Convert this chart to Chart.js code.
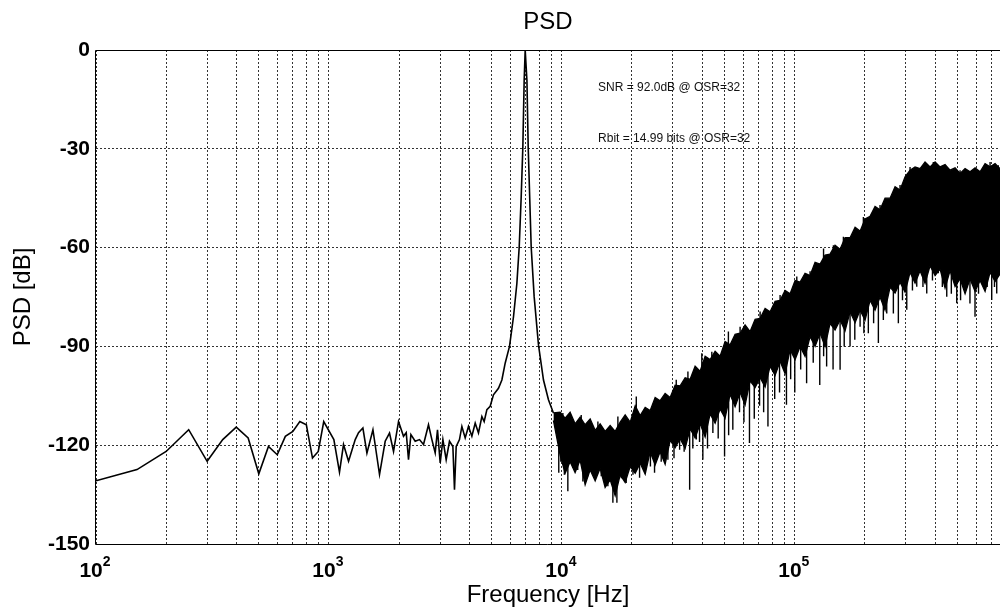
<!DOCTYPE html>
<html>
<head>
<meta charset="utf-8">
<script src="https://cdn.jsdelivr.net/npm/chart.js@4.4.1/dist/chart.umd.min.js"></script>
<style>
  html, body { margin: 0; padding: 0; background: #fff; overflow: hidden; }
</style>
</head>
<body>
<canvas id="psdChart" width="1000" height="610"></canvas>
<script>
  // low band + signal tone (Hz, dB)
  const lowFreq = [100, 150, 200, 250, 300, 350, 400, 450, 500, 550, 600, 650, 700, 750, 800, 850, 900, 950,
    1050, 1110, 1155, 1214, 1297, 1340, 1399, 1456, 1545, 1649, 1744, 1820, 1894, 1990,
    2090, 2147, 2196, 2249, 2346, 2448, 2547, 2676, 2767, 2859, 2925, 3004, 3085, 3187, 3293, 3405, 3460, 3519,
    3635, 3722, 3846, 3973, 4109, 4246, 4386, 4536, 4640, 4766, 4923, 5086, 5344, 5527, 5710, 5960,
    6200, 6410, 6560, 6690, 6800, 6890, 6960, 7080, 7170, 7385, 7605, 7935, 8340, 8760, 9200];
  const lowPsd = [-130.8, -127.4, -121.9, -115.3, -124.9, -118.3, -114.5, -117.8, -128.7, -120.4, -122.9, -117.3, -115.8, -112.8, -113.8, -123.9, -121.9, -112.8,
    -118.3, -128.2, -119.8, -124.9, -118.3, -116.2, -114.8, -122.4, -115.3, -128.9, -118.8, -116.3, -121.9, -112.8,
    -117.3, -116.2, -124.4, -116.8, -118.8, -118.3, -119.8, -113.8, -118.3, -122.3, -115.3, -125.4, -118.3, -124.4, -118.8, -120.4, -133.5, -120.4,
    -118.3, -114.3, -117.8, -114.3, -117.3, -113.3, -116.3, -111.3, -112.8, -109.2, -108.2, -104.7, -102.7, -100.2, -95.1, -90.0,
    -81.0, -70.9, -59.8, -44.6, -29.5, -9.2, 0, -9.2, -29.5, -59.8, -74.9, -89.5, -100.2, -106.2, -110.2];

  // shaped noise: upper edge and lower edge of the dense trace
  const noiseFreq = [9200, 9830, 10330, 10850, 11400, 11980, 12590, 13230, 13900, 14600, 15340, 16120, 16940, 17800, 18700,
    19650, 20650, 21690, 22790, 23930, 25150, 26420, 27760, 29160, 30640, 32190, 33830, 35540, 37340, 39230,
    41220, 43300, 45500, 47790, 50210, 52760, 55430, 58240, 61190, 64300, 67560, 70980, 74580, 78340, 82320,
    86480, 90870, 95480, 100300, 105400, 110700, 116300, 122200, 128400, 134900, 141700, 148900, 156500, 164400,
    172700, 181500, 190700, 200300, 210500, 221100, 232300, 244100, 256500, 269500, 283100, 297500, 312500,
    328400, 345000, 362500, 380900, 400200, 420500, 441800, 464200, 487700, 512400, 538400, 565700, 594300,
    624400, 656100, 689300, 724300, 760400];
  const noiseTop = [-110.2, -110.0, -111.8, -110.0, -113.5, -111.5, -113.8, -112.0, -115.5, -113.5, -115.8, -114.0, -115.8, -113.0, -110.8,
    -113.0, -108.0, -111.0, -108.5, -109.5, -105.5, -106.5, -104.3, -105.5, -101.8, -102.0, -99.5, -100.0, -96.0, -97.5,
    -93.0, -94.0, -91.5, -93.0, -88.5, -89.5, -86.3, -86.0, -83.5, -85.5, -81.8, -81.5, -78.5, -79.5, -76.3,
    -76.0, -73.0, -74.0, -70.0, -70.5, -67.8, -68.5, -64.5, -65.0, -62.3, -62.0, -59.3, -60.5, -57.0,
    -57.0, -53.8, -55.0, -51.3, -50.5, -47.5, -48.5, -45.0, -45.0, -41.5, -42.5, -38.5, -36.5,
    -35.5, -36.0, -34.0, -35.5, -34.0, -35.5, -34.8, -36.5, -35.8, -37.5, -36.0, -37.0, -35.8,
    -37.0, -34.5, -35.5, -34.5, -36.0];
  const noiseBottom = [-112.5, -123.0, -128.5, -125.0, -128.3, -124.5, -132.0, -127.5, -130.8, -127.0, -132.8, -130.5, -135.3, -129.0, -131.3,
    -126.5, -128.5, -125.5, -128.8, -122.0, -126.0, -122.0, -125.8, -118.5, -120.8, -118.0, -121.0, -115.0, -117.8, -113.5,
    -117.5, -110.5, -113.3, -109.0, -111.8, -104.5, -108.3, -104.0, -107.8, -100.5, -102.5, -99.5, -102.3, -96.0, -98.8,
    -94.5, -98.3, -91.0, -94.0, -90.0, -93.0, -87.0, -90.0, -86.0, -90.0, -83.0, -85.0, -82.0, -85.3,
    -79.5, -82.8, -79.0, -82.0, -76.0, -79.0, -75.0, -79.0, -72.0, -73.8, -70.5, -73.5, -67.5,
    -70.8, -67.0, -70.8, -65.5, -68.5, -66.5, -72.3, -67.0, -71.8, -69.5, -74.0, -69.5, -73.3,
    -70.0, -73.3, -67.5, -70.3, -68.0];

  // single-bin excursions beyond the band (dips below and teeth above)
  const spikeFreq = [9700, 9900, 10100, 10250, 10610, 11150, 11700, 12110, 12310, 12900, 13590, 14100, 14280, 14760, 15300,
    15760, 16000, 16560, 17230, 17400, 18000, 18890, 20200, 20870, 21560, 22800, 24000, 25000, 25430, 26700,
    28530, 30300, 30980, 32030, 33500, 34770, 35370, 36500, 37790, 39000, 39890, 40300, 42200, 44040, 44500,
    46900, 49950, 51880, 52000, 54200, 57900, 58240, 60500, 63900, 67000, 70600, 70980, 73500, 76700, 82000,
    86000, 86480, 92100, 96000, 100000, 102000, 106000, 112400, 116300, 120000, 128000, 132900, 133000, 137000,
    146000, 146500, 156500, 161700, 163000, 172700, 181000, 190700, 197000, 198000, 206900, 218000, 228500,
    232300, 240000, 248200, 265000, 278400, 283100, 290000, 302500, 312500, 320000, 333900, 355000, 356400,
    368600, 390000, 393400, 413300, 430000, 441700, 449200, 470000, 495800, 512400, 515000, 538100, 565000,
    584200, 594000, 615000, 644900, 670000, 689300, 700600, 720000, 736200, 747800];
  const spikeTip = [-128.4, -125.0, -110.2, -129.0, -134.0, -126.9, -127.5, -110.8, -131.0, -129.5, -128.4, -128.0, -112.8, -129.4, -130.0,
    -132.5, -131.0, -137.5, -137.5, -111.3, -130.0, -131.5, -129.0, -105.2, -129.9, -127.0, -126.5, -128.4, -106.2, -125.0,
    -124.4, -124.0, -100.1, -121.4, -122.0, -97.6, -133.5, -121.0, -118.3, -119.0, -92.1, -124.4, -121.0, -91.6, -116.3,
    -118.0, -123.4, -85.5, -117.0, -115.3, -110.0, -84.0, -113.0, -119.3, -112.0, -108.0, -79.4, -110.0, -114.3, -106.0,
    -104.0, -74.4, -107.7, -100.0, -104.0, -68.8, -97.0, -101.2, -67.2, -95.0, -101.7, -60.3, -93.0, -96.1,
    -97.0, -59.3, -97.1, -56.7, -90.0, -90.0, -88.0, -84.0, -50.7, -86.0, -86.0, -83.0, -89.0,
    -47.1, -82.0, -80.0, -80.0, -83.0, -41.0, -76.0, -78.9, -35.5, -73.0, -71.9, -72.0, -35.0,
    -73.9, -70.0, -34.0, -67.8, -72.0, -35.0, -74.9, -74.0, -76.9, -36.5, -76.0, -71.9, -77.0,
    -36.5, -81.0, -74.0, -69.8, -72.0, -34.0, -75.9, -72.0, -73.9, -35.0];

  const yTicks = [0, -30, -60, -90, -120, -150];
  const xDecades = [100, 1000, 10000, 100000];
  const xDecadeExp = ['2', '3', '4', '5'];
  const xMin = 100;
  const xMax = 760400;

  const annoText = ['SNR = 92.0dB @ OSR=32', 'Rbit = 14.99 bits @ OSR=32'];
  const annoFreq = [14300, 14300];
  const annoDb = [-11.3, -26.9];

  const FONT = "'Liberation Sans', Arial, sans-serif";
  Chart.defaults.font.family = FONT;
  Chart.defaults.color = '#000';

  const pts = (xs, ys) => xs.map((f, i) => ({ x: f, y: ys[i] }));

  // each excursion is a vertical stroke from its tip back into the band
  const spikePts = [];
  spikeFreq.forEach((f, i) => {
    let best = 0;
    noiseFreq.forEach((g, j) => {
      if (Math.abs(Math.log(g / f)) < Math.abs(Math.log(noiseFreq[best] / f))) best = j;
    });
    const mid = (noiseTop[best] + noiseBottom[best]) / 2;
    spikePts.push({ x: f, y: spikeTip[i] }, { x: f, y: mid }, { x: f, y: null });
  });

  const decor = {
    id: 'psdDecor',
    afterDraw(chart) {
      const { ctx, chartArea: a, scales: { x, y } } = chart;
      ctx.save();
      // frame (left, top, bottom)
      ctx.strokeStyle = '#000';
      ctx.lineWidth = 1;
      ctx.beginPath();
      ctx.moveTo(a.right, a.top + 0.5);
      ctx.lineTo(a.left - 0.5, a.top + 0.5);
      ctx.lineTo(a.left - 0.5, a.bottom + 0.5);
      ctx.lineTo(a.right, a.bottom + 0.5);
      ctx.stroke();

      // decade labels 10^n
      ctx.fillStyle = '#000';
      ctx.textBaseline = 'alphabetic';
      ctx.textAlign = 'left';
      xDecades.forEach((d, i) => {
        const px = x.getPixelForValue(d);
        ctx.font = 'bold 21px ' + FONT;
        const w1 = ctx.measureText('10').width;
        ctx.font = 'bold 14px ' + FONT;
        const w2 = ctx.measureText(xDecadeExp[i]).width;
        const start = px - (w1 + w2) / 2 - 1;
        ctx.font = 'bold 21px ' + FONT;
        ctx.fillText('10', start, a.bottom + 33);
        ctx.font = 'bold 14px ' + FONT;
        ctx.fillText(xDecadeExp[i], start + w1, a.bottom + 22);
      });

      // annotations
      ctx.font = '12px ' + FONT;
      ctx.fillStyle = '#111';
      ctx.textBaseline = 'middle';
      annoText.forEach((t, i) => {
        ctx.fillText(t, x.getPixelForValue(annoFreq[i]), y.getPixelForValue(annoDb[i]));
      });
      ctx.restore();
    }
  };

  const ctx = document.getElementById('psdChart').getContext('2d');
  const psdChart = new Chart(ctx, {
    type: 'line',
    data: {
      datasets: [
        {
          data: pts(lowFreq, lowPsd),
          borderColor: '#000',
          borderWidth: 1.6,
          pointRadius: 0,
          tension: 0,
          fill: false
        },
        {
          data: pts(noiseFreq, noiseTop),
          borderColor: '#000',
          borderWidth: 1.3,
          pointRadius: 0,
          tension: 0,
          fill: false
        },
        {
          data: pts(noiseFreq, noiseBottom),
          borderColor: '#000',
          borderWidth: 1.3,
          backgroundColor: '#000',
          pointRadius: 0,
          tension: 0,
          fill: '-1'
        },
        {
          data: spikePts,
          borderColor: '#000',
          borderWidth: 1.4,
          pointRadius: 0,
          tension: 0,
          spanGaps: false,
          fill: false
        }
      ]
    },
    options: {
      responsive: false,
      animation: false,
      layout: { padding: 0 },
      plugins: {
        legend: { display: false },
        tooltip: { enabled: false },
        title: {
          display: true,
          text: 'PSD',
          fullSize: false,
          color: '#000',
          font: { size: 24, weight: 'normal' },
          padding: { top: 8, bottom: 13.2 }
        }
      },
      scales: {
        x: {
          type: 'logarithmic',
          min: xMin,
          max: xMax,
          afterBuildTicks(scale) {
            const t = [];
            xDecades.forEach(d => {
              for (let m = 1; m <= 9; m++) if (m * d <= xMax) t.push({ value: m * d });
            });
            scale.ticks = t;
          },
          afterFit(scale) { scale.height = 66; },
          ticks: { display: false },
          grid: { color: '#333', lineWidth: 1, drawTicks: false },
          border: { display: false, dash: [2, 2] },
          title: {
            display: true,
            text: 'Frequency [Hz]',
            color: '#000',
            font: { size: 24 },
            padding: { top: 0, bottom: 0 }
          }
        },
        y: {
          type: 'linear',
          min: -150,
          max: 0,
          afterBuildTicks(scale) { scale.ticks = yTicks.map(v => ({ value: v })); },
          afterFit(scale) { scale.width = 96; },
          ticks: {
            color: '#000',
            padding: 6,
            font: { size: 21, weight: 'bold' },
            callback: v => String(v)
          },
          grid: { color: '#333', lineWidth: 1, drawTicks: false },
          border: { display: false, dash: [2, 2] },
          title: {
            display: true,
            text: 'PSD [dB]',
            color: '#000',
            font: { size: 24 },
            padding: { top: 9 }
          }
        }
      }
    },
    plugins: [decor]
  });
</script>
</body>
</html>
